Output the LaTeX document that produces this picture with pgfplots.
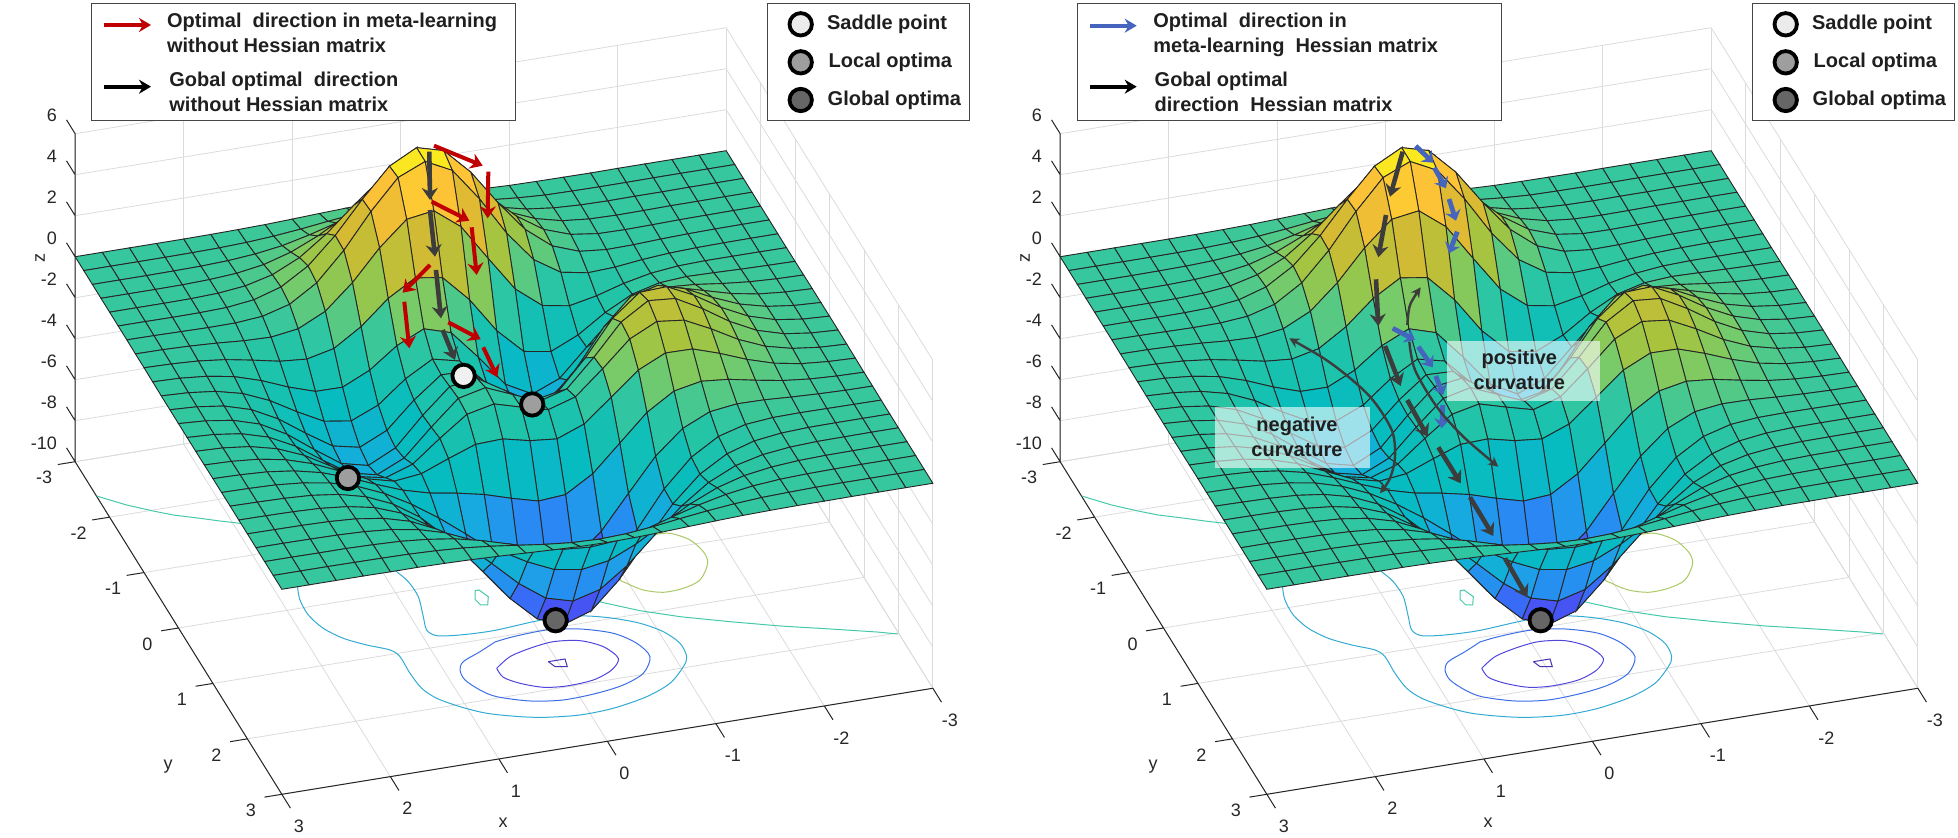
\documentclass[border=0pt]{standalone}
\usepackage{fontspec}
\setmainfont{Liberation Sans}
\usepackage{pgfplots}
\usepackage{pgfplotstable}
\pgfplotsset{compat=1.18}
\usetikzlibrary{arrows.meta}

\definecolor{tickc}{RGB}{38,38,38}
\definecolor{myred}{RGB}{192,0,0}
\definecolor{myblue}{RGB}{68,100,190}
\definecolor{mydark}{RGB}{60,60,60}

% surface values, x and y in steps of 0.25
\pgfplotstableread[row sep=\\]{
x y z\\
-3 -3 0\\-2.75 -3 0\\-2.5 -3 0\\-2.25 -3 0\\-2 -3 0\\-1.75 -3 -0.01\\-1.5 -3 0\\-1.25 -3 0.01\\-1 -3 0.03\\-0.75 -3 0.08\\-0.5 -3 0.14\\-0.25 -3 0.2\\0 -3 0.24\\0.25 -3 0.25\\0.5 -3 0.22\\0.75 -3 0.17\\1 -3 0.11\\1.25 -3 0.06\\1.5 -3 0.03\\1.75 -3 0.01\\2 -3 0\\2.25 -3 0\\2.5 -3 0\\2.75 -3 0\\3 -3 0\\
-3 -2.75 0\\-2.75 -2.75 0\\-2.5 -2.75 0\\-2.25 -2.75 0\\-2 -2.75 -0.01\\-1.75 -2.75 -0.01\\-1.5 -2.75 0\\-1.25 -2.75 0.02\\-1 -2.75 0.1\\-0.75 -2.75 0.22\\-0.5 -2.75 0.39\\-0.25 -2.75 0.56\\0 -2.75 0.68\\0.25 -2.75 0.69\\0.5 -2.75 0.61\\0.75 -2.75 0.46\\1 -2.75 0.3\\1.25 -2.75 0.17\\1.5 -2.75 0.08\\1.75 -2.75 0.03\\2 -2.75 0.01\\2.25 -2.75 0\\2.5 -2.75 0\\2.75 -2.75 0\\3 -2.75 0\\
-3 -2.5 0\\-2.75 -2.5 0\\-2.5 -2.5 0\\-2.25 -2.5 -0.01\\-2 -2.5 -0.01\\-1.75 -2.5 -0.02\\-1.5 -2.5 0\\-1.25 -2.5 0.07\\-1 -2.5 0.23\\-0.75 -2.5 0.53\\-0.5 -2.5 0.92\\-0.25 -2.5 1.31\\0 -2.5 1.57\\0.25 -2.5 1.61\\0.5 -2.5 1.41\\0.75 -2.5 1.06\\1 -2.5 0.69\\1.25 -2.5 0.38\\1.5 -2.5 0.19\\1.75 -2.5 0.08\\2 -2.5 0.03\\2.25 -2.5 0.01\\2.5 -2.5 0\\2.75 -2.5 0\\3 -2.5 0\\
-3 -2.25 0\\-2.75 -2.25 0\\-2.5 -2.25 -0.01\\-2.25 -2.25 -0.01\\-2 -2.25 -0.03\\-1.75 -2.25 -0.04\\-1.5 -2.25 -0.01\\-1.25 -2.25 0.12\\-1 -2.25 0.44\\-0.75 -2.25 0.99\\-0.5 -2.25 1.74\\-0.25 -2.25 2.51\\0 -2.25 3.02\\0.25 -2.25 3.1\\0.5 -2.25 2.72\\0.75 -2.25 2.05\\1 -2.25 1.32\\1.25 -2.25 0.74\\1.5 -2.25 0.35\\1.75 -2.25 0.14\\2 -2.25 0.05\\2.25 -2.25 0.01\\2.5 -2.25 0\\2.75 -2.25 0\\3 -2.25 0\\
-3 -2 0\\-2.75 -2 0\\-2.5 -2 -0.01\\-2.25 -2 -0.02\\-2 -2 -0.05\\-1.75 -2 -0.07\\-1.5 -2 -0.05\\-1.25 -2 0.13\\-1 -2 0.59\\-0.75 -2 1.45\\-0.5 -2 2.64\\-0.25 -2 3.89\\0 -2 4.76\\0.25 -2 4.93\\0.5 -2 4.35\\0.75 -2 3.27\\1 -2 2.1\\1.25 -2 1.15\\1.5 -2 0.53\\1.75 -2 0.2\\2 -2 0.06\\2.25 -2 0.01\\2.5 -2 0\\2.75 -2 0\\3 -2 0\\
-3 -1.75 0\\-2.75 -1.75 0\\-2.5 -1.75 -0.01\\-2.25 -1.75 -0.03\\-2 -1.75 -0.07\\-1.75 -1.75 -0.13\\-1.5 -1.75 -0.15\\-1.25 -1.75 -0.02\\-1 -1.75 0.46\\-0.75 -1.75 1.48\\-0.5 -1.75 3\\-0.25 -1.75 4.7\\0 -1.75 5.97\\0.25 -1.75 6.33\\0.5 -1.75 5.64\\0.75 -1.75 4.24\\1 -1.75 2.69\\1.25 -1.75 1.42\\1.5 -1.75 0.61\\1.75 -1.75 0.2\\2 -1.75 0.04\\2.25 -1.75 0\\2.5 -1.75 -0.01\\2.75 -1.75 0\\3 -1.75 0\\
-3 -1.5 0\\-2.75 -1.5 0\\-2.5 -1.5 -0.01\\-2.25 -1.5 -0.03\\-2 -1.5 -0.08\\-1.75 -1.5 -0.18\\-1.5 -1.5 -0.33\\-1.25 -1.5 -0.39\\-1 -1.5 -0.15\\-0.75 -1.5 0.68\\-0.5 -1.5 2.19\\-0.25 -1.5 4.08\\0 -1.5 5.68\\0.25 -1.5 6.33\\0.5 -1.5 5.76\\0.75 -1.5 4.32\\1 -1.5 2.64\\1.25 -1.5 1.27\\1.5 -1.5 0.44\\1.75 -1.5 0.07\\2 -1.5 -0.04\\2.25 -1.5 -0.05\\2.5 -1.5 -0.03\\2.75 -1.5 -0.01\\3 -1.5 0\\
-3 -1.25 0\\-2.75 -1.25 0.01\\-2.5 -1.25 0.01\\-2.25 -1.25 0.01\\-2 -1.25 -0.03\\-1.75 -1.25 -0.17\\-1.5 -1.25 -0.45\\-1.25 -1.25 -0.84\\-1 -1.25 -1.11\\-0.75 -1.25 -0.88\\-0.5 -1.25 0.14\\-0.25 -1.25 1.85\\0 -1.25 3.61\\0.25 -1.25 4.6\\0.5 -1.25 4.4\\0.75 -1.25 3.22\\1 -1.25 1.74\\1.25 -1.25 0.56\\1.5 -1.25 -0.08\\1.75 -1.25 -0.27\\2 -1.25 -0.23\\2.25 -1.25 -0.13\\2.5 -1.25 -0.06\\2.75 -1.25 -0.02\\3 -1.25 -0.01\\
-3 -1 0.01\\-2.75 -1 0.03\\-2.5 -1 0.06\\-2.25 -1 0.1\\-2 -1 0.13\\-1.75 -1 0.04\\-1.5 -1 -0.3\\-1.25 -1 -0.98\\-1 -1 -1.86\\-0.75 -1 -2.45\\-0.5 -1 -2.23\\-0.25 -1 -1\\0 -1 0.72\\0.25 -1 2.02\\0.5 -1 2.22\\0.75 -1 1.43\\1 -1 0.27\\1.25 -1 -0.58\\1.5 -1 -0.88\\1.75 -1 -0.77\\2 -1 -0.5\\2.25 -1 -0.26\\2.5 -1 -0.11\\2.75 -1 -0.04\\3 -1 -0.01\\
-3 -0.75 0.02\\-2.75 -0.75 0.05\\-2.5 -0.75 0.12\\-2.25 -0.75 0.25\\-2 -0.75 0.42\\-1.75 -0.75 0.51\\-1.5 -0.75 0.28\\-1.25 -0.75 -0.5\\-1 -0.75 -1.78\\-0.75 -0.75 -3.09\\-0.5 -0.75 -3.63\\-0.25 -0.75 -2.94\\0 -0.75 -1.4\\0.25 -0.75 0.01\\0.5 -0.75 0.41\\0.75 -0.75 -0.2\\1 -0.75 -1.18\\1.25 -0.75 -1.79\\1.5 -0.75 -1.78\\1.75 -0.75 -1.35\\2 -0.75 -0.82\\2.25 -0.75 -0.41\\2.5 -0.75 -0.18\\2.75 -0.75 -0.06\\3 -0.75 -0.02\\
-3 -0.5 0.03\\-2.75 -0.5 0.08\\-2.5 -0.5 0.2\\-2.25 -0.5 0.44\\-2 -0.5 0.8\\-1.75 -0.5 1.16\\-1.5 -0.5 1.21\\-1.25 -0.5 0.6\\-1 -0.5 -0.8\\-0.75 -0.5 -2.49\\-0.5 -0.5 -3.55\\-0.25 -0.5 -3.3\\0 -0.5 -2\\0.25 -0.5 -0.7\\0.5 -0.5 -0.39\\0.75 -0.5 -1.14\\1 -0.5 -2.2\\1.25 -0.5 -2.76\\1.5 -0.5 -2.56\\1.75 -0.5 -1.88\\2 -0.5 -1.12\\2.25 -0.5 -0.56\\2.5 -0.5 -0.24\\2.75 -0.5 -0.09\\3 -0.5 -0.03\\
-3 -0.25 0.03\\-2.75 -0.25 0.1\\-2.5 -0.25 0.27\\-2.25 -0.25 0.6\\-2 -0.25 1.14\\-1.75 -0.25 1.78\\-1.5 -0.25 2.16\\-1.25 -0.25 1.84\\-1 -0.25 0.56\\-0.75 -0.25 -1.23\\-0.5 -0.25 -2.56\\-0.25 -0.25 -2.63\\0 -0.25 -1.58\\0.25 -0.25 -0.53\\0.5 -0.25 -0.48\\0.75 -0.25 -1.5\\1 -0.25 -2.76\\1.25 -0.25 -3.37\\1.5 -0.25 -3.09\\1.75 -0.25 -2.25\\2 -0.25 -1.34\\2.25 -0.25 -0.67\\2.5 -0.25 -0.28\\2.75 -0.25 -0.1\\3 -0.25 -0.03\\
-3 0 0.04\\-2.75 0 0.11\\-2.5 0 0.3\\-2.25 0 0.69\\-2 0 1.33\\-1.75 0 2.14\\-1.5 0 2.77\\-1.25 0 2.71\\-1 0 1.65\\-0.75 0 -0.06\\-0.5 0 -1.48\\-0.25 0 -1.75\\0 0 -0.98\\0.25 0 -0.19\\0.5 0 -0.38\\0.75 0 -1.57\\1 0 -2.94\\1.25 0 -3.58\\1.5 0 -3.27\\1.75 0 -2.37\\2 0 -1.41\\2.25 0 -0.7\\2.5 0 -0.3\\2.75 0 -0.11\\3 0 -0.03\\
-3 0.25 0.04\\-2.75 0.25 0.11\\-2.5 0.25 0.29\\-2.25 0.25 0.67\\-2 0.25 1.32\\-1.75 0.25 2.16\\-1.5 0.25 2.87\\-1.25 0.25 2.98\\-1 0.25 2.15\\-0.75 0.25 0.65\\-0.5 0.25 -0.68\\-0.25 0.25 -1.06\\0 0.25 -0.52\\0.25 0.25 0.03\\0.5 0.25 -0.28\\0.75 0.25 -1.47\\1 0.25 -2.76\\1.25 0.25 -3.36\\1.5 0.25 -3.06\\1.75 0.25 -2.22\\2 0.25 -1.32\\2.25 0.25 -0.66\\2.5 0.25 -0.28\\2.75 0.25 -0.1\\3 0.25 -0.03\\
-3 0.5 0.03\\-2.75 0.5 0.09\\-2.5 0.5 0.25\\-2.25 0.5 0.57\\-2 0.5 1.12\\-1.75 0.5 1.85\\-1.5 0.5 2.49\\-1.25 0.5 2.64\\-1 0.5 2\\-0.75 0.5 0.76\\-0.5 0.5 -0.39\\-0.25 0.5 -0.8\\0 0.5 -0.46\\0.25 0.5 -0.09\\0.5 0.5 -0.38\\0.75 0.5 -1.34\\1 0.5 -2.38\\1.25 0.5 -2.83\\1.5 0.5 -2.56\\1.75 0.5 -1.84\\2 0.5 -1.09\\2.25 0.5 -0.55\\2.5 0.5 -0.23\\2.75 0.5 -0.08\\3 0.5 -0.03\\
-3 0.75 0.02\\-2.75 0.75 0.07\\-2.5 0.75 0.18\\-2.25 0.75 0.42\\-2 0.75 0.82\\-1.75 0.75 1.33\\-1.5 0.75 1.76\\-1.25 0.75 1.78\\-1 0.75 1.16\\-0.75 0.75 0.05\\-0.5 0.75 -1.04\\-0.25 0.75 -1.55\\0 0.75 -1.42\\0.25 0.75 -1.12\\0.5 0.75 -1.17\\0.75 0.75 -1.65\\1 0.75 -2.17\\1.25 0.75 -2.32\\1.5 0.75 -1.99\\1.75 0.75 -1.4\\2 0.75 -0.82\\2.25 0.75 -0.41\\2.5 0.75 -0.17\\2.75 0.75 -0.06\\3 0.75 -0.02\\
-3 1 0.01\\-2.75 1 0.04\\-2.5 1 0.11\\-2.25 1 0.25\\-2 1 0.48\\-1.75 1 0.74\\-1.5 1 0.86\\-1.25 1 0.6\\-1 1 -0.23\\-0.75 1 -1.51\\-0.5 1 -2.79\\-0.25 1 -3.59\\0 1 -3.69\\0.25 1 -3.34\\0.5 1 -2.94\\0.75 1 -2.66\\1 1 -2.44\\1.25 1 -2.08\\1.5 1 -1.58\\1.75 1 -1.04\\2 1 -0.58\\2.25 1 -0.28\\2.5 1 -0.11\\2.75 1 -0.04\\3 1 -0.01\\
-3 1.25 0.01\\-2.75 1.25 0.02\\-2.5 1.25 0.06\\-2.25 1.25 0.12\\-2 1.25 0.2\\-1.75 1.25 0.22\\-1.5 1.25 0.05\\-1.25 1.25 -0.55\\-1 1.25 -1.69\\-0.75 1.25 -3.29\\-0.5 1.25 -4.92\\-0.25 1.25 -6.07\\0 1.25 -6.39\\0.25 1.25 -5.94\\0.5 1.25 -5.02\\0.75 1.25 -3.97\\1 1.25 -2.97\\1.25 1.25 -2.09\\1.5 1.25 -1.35\\1.75 1.25 -0.79\\2 1.25 -0.41\\2.25 1.25 -0.19\\2.5 1.25 -0.07\\2.75 1.25 -0.03\\3 1.25 -0.01\\
-3 1.5 0\\-2.75 1.5 0.01\\-2.5 1.5 0.02\\-2.25 1.5 0.03\\-2 1.5 0.01\\-1.75 1.5 -0.11\\-1.5 1.5 -0.48\\-1.25 1.5 -1.28\\-1 1.5 -2.61\\-0.75 1.5 -4.38\\-0.5 1.5 -6.2\\-0.25 1.5 -7.54\\0 1.5 -8\\0.25 1.5 -7.48\\0.5 1.5 -6.25\\0.75 1.5 -4.72\\1 1.5 -3.26\\1.25 1.5 -2.05\\1.5 1.5 -1.19\\1.75 1.5 -0.62\\2 1.5 -0.29\\2.25 1.5 -0.12\\2.5 1.5 -0.05\\2.75 1.5 -0.02\\3 1.5 0\\
-3 1.75 0\\-2.75 1.75 0\\-2.5 1.75 0\\-2.25 1.75 -0.01\\-2 1.75 -0.07\\-1.75 1.75 -0.24\\-1.5 1.75 -0.65\\-1.25 1.75 -1.43\\-1 1.75 -2.67\\-0.75 1.75 -4.29\\-0.5 1.75 -5.96\\-0.25 1.75 -7.22\\0 1.75 -7.67\\0.25 1.75 -7.19\\0.5 1.75 -5.98\\0.75 1.75 -4.45\\1 1.75 -2.96\\1.25 1.75 -1.78\\1.5 1.75 -0.96\\1.75 1.75 -0.47\\2 1.75 -0.21\\2.25 1.75 -0.08\\2.5 1.75 -0.03\\2.75 1.75 -0.01\\3 1.75 0\\
-3 2 0\\-2.75 2 0\\-2.5 2 -0.01\\-2.25 2 -0.02\\-2 2 -0.08\\-1.75 2 -0.23\\-1.5 2 -0.55\\-1.25 2 -1.16\\-1 2 -2.1\\-0.75 2 -3.31\\-0.5 2 -4.56\\-0.25 2 -5.51\\0 2 -5.86\\0.25 2 -5.5\\0.5 2 -4.57\\0.75 2 -3.37\\1 2 -2.21\\1.25 2 -1.29\\1.5 2 -0.68\\1.75 2 -0.32\\2 2 -0.13\\2.25 2 -0.05\\2.5 2 -0.02\\2.75 2 -0.01\\3 2 0\\
-3 2.25 0\\-2.75 2.25 0\\-2.5 2.25 -0.01\\-2.25 2.25 -0.02\\-2 2.25 -0.06\\-1.75 2.25 -0.16\\-1.5 2.25 -0.36\\-1.25 2.25 -0.74\\-1 2.25 -1.32\\-0.75 2.25 -2.07\\-0.5 2.25 -2.84\\-0.25 2.25 -3.43\\0 2.25 -3.65\\0.25 2.25 -3.43\\0.5 2.25 -2.84\\0.75 2.25 -2.09\\1 2.25 -1.36\\1.25 2.25 -0.79\\1.5 2.25 -0.41\\1.75 2.25 -0.19\\2 2.25 -0.08\\2.25 2.25 -0.03\\2.5 2.25 -0.01\\2.75 2.25 0\\3 2.25 0\\
-3 2.5 0\\-2.75 2.5 0\\-2.5 2.5 0\\-2.25 2.5 -0.01\\-2 2.5 -0.03\\-1.75 2.5 -0.08\\-1.5 2.5 -0.19\\-1.25 2.5 -0.39\\-1 2.5 -0.69\\-0.75 2.5 -1.07\\-0.5 2.5 -1.47\\-0.25 2.5 -1.77\\0 2.5 -1.88\\0.25 2.5 -1.77\\0.5 2.5 -1.47\\0.75 2.5 -1.08\\1 2.5 -0.7\\1.25 2.5 -0.4\\1.5 2.5 -0.21\\1.75 2.5 -0.09\\2 2.5 -0.04\\2.25 2.5 -0.01\\2.5 2.5 -0.01\\2.75 2.5 0\\3 2.5 0\\
-3 2.75 0\\-2.75 2.75 0\\-2.5 2.75 0\\-2.25 2.75 0\\-2 2.75 -0.01\\-1.75 2.75 -0.04\\-1.5 2.75 -0.08\\-1.25 2.75 -0.17\\-1 2.75 -0.3\\-0.75 2.75 -0.46\\-0.5 2.75 -0.64\\-0.25 2.75 -0.77\\0 2.75 -0.82\\0.25 2.75 -0.77\\0.5 2.75 -0.64\\0.75 2.75 -0.47\\1 2.75 -0.3\\1.25 2.75 -0.17\\1.5 2.75 -0.09\\1.75 2.75 -0.04\\2 2.75 -0.02\\2.25 2.75 -0.01\\2.5 2.75 0\\2.75 2.75 0\\3 2.75 0\\
-3 3 0\\-2.75 3 0\\-2.5 3 0\\-2.25 3 0\\-2 3 -0.01\\-1.75 3 -0.01\\-1.5 3 -0.03\\-1.25 3 -0.06\\-1 3 -0.11\\-0.75 3 -0.17\\-0.5 3 -0.23\\-0.25 3 -0.28\\0 3 -0.3\\0.25 3 -0.28\\0.5 3 -0.23\\0.75 3 -0.17\\1 3 -0.11\\1.25 3 -0.06\\1.5 3 -0.03\\1.75 3 -0.01\\2 3 -0.01\\2.25 3 0\\2.5 3 0\\2.75 3 0\\3 3 0\\
}\peaks

% contour lines on the floor (z=-10), read off in pixels of the left panel
\pgfplotstableread[row sep=\\]{
px py pz\\ 96.7 496 -10\\ 126.7 505 -10\\ 151.7 510.7 -10\\ 173.3 515 -10\\ 200 518.3 -10\\ 220 521 -10\\ 240 523.3 -10\\ 270 528 -10\\
}\czeroa
\pgfplotstableread[row sep=\\]{
px py pz\\ 580 595 -10\\ 601.7 602.3 -10\\ 640 610.7 -10\\ 680 616.7 -10\\ 730 621.7 -10\\ 780 626 -10\\ 830 629 -10\\ 876.7 632 -10\\ 898 634 -10\\
}\czerob
\pgfplotstableread[row sep=\\]{
px py pz\\ 475 590.7 -10\\ 479 590 -10\\ 488.3 596.7 -10\\ 487.7 605 -10\\ 480.7 605 -10\\ 475 599.3 -10\\ 475 590.7 -10\\
}\czeroc
\pgfplotstableread[row sep=\\]{
px py pz\\ 297 578 -10\\ 297.7 588.3 -10\\ 300 600 -10\\ 308.3 615 -10\\ 323.3 628.3 -10\\ 343.3 638.3 -10\\ 366.7 645 -10\\ 390 650 -10\\ 400 656.7 -10\\ 410 673.3 -10\\ 421.7 688.3 -10\\ 436.7 698.3 -10\\ 460 706.7 -10\\ 486.7 713.3 -10\\ 520 716.7 -10\\ 546.7 717.3 -10\\ 580 715 -10\\ 613.3 708.3 -10\\ 646.7 696.7 -10\\ 670 683.3 -10\\ 683.3 666.7 -10\\ 686.7 656.7 -10\\ 680 643.3 -10\\ 663.3 631.7 -10\\ 640 623.3 -10\\ 613.3 618.3 -10\\ 586.7 616 -10\\ 560 617 -10\\ 533.3 621.7 -10\\ 493.3 630.7 -10\\ 460 635 -10\\ 436.7 635.7 -10\\ 426.7 630 -10\\ 423.3 616.7 -10\\ 418.3 596.7 -10\\ 408.3 581.7 -10\\ 396.7 571.7 -10\\ 390 566 -10\\
}\ctwo
\pgfplotstableread[row sep=\\]{
px py pz\\ 495 642 -10\\ 513.3 636.7 -10\\ 546.7 630 -10\\ 580 629 -10\\ 613.3 633.3 -10\\ 636.7 643.3 -10\\ 650 656.7 -10\\ 643.3 673.3 -10\\ 623.3 685 -10\\ 596.7 693.3 -10\\ 563.3 700 -10\\ 530 701 -10\\ 496.7 696.7 -10\\ 480 690 -10\\ 465 680 -10\\ 460 670 -10\\ 463.3 661.7 -10\\ 480 651.7 -10\\ 495 642 -10\\
}\cfour
\pgfplotstableread[row sep=\\]{
px py pz\\ 496.7 668.3 -10\\ 510 656.7 -10\\ 530 648.3 -10\\ 553.3 641.7 -10\\ 580 640.7 -10\\ 603.3 646.7 -10\\ 618.3 658.3 -10\\ 611.7 670 -10\\ 593.3 680 -10\\ 566.7 686 -10\\ 543.3 687.3 -10\\ 520 683.3 -10\\ 503.3 677.3 -10\\ 496.7 668.3 -10\\
}\csix
\pgfplotstableread[row sep=\\]{
px py pz\\ 548.3 661.7 -10\\ 565 659 -10\\ 567.3 666.7 -10\\ 555 666.7 -10\\ 548.3 661.7 -10\\
}\ceight
\pgfplotstableread[row sep=\\]{
px py pz\\ 640 540 -10\\ 653.3 535 -10\\ 670 533.3 -10\\ 690 540 -10\\ 703.3 551.7 -10\\ 707.7 563.3 -10\\ 700 580 -10\\ 683.3 588.3 -10\\ 663.3 592.3 -10\\ 643.3 590 -10\\ 626.7 583.3 -10\\ 620 578.3 -10\\ 630 560 -10\\ 640 540 -10\\
}\cplus

\pgfplotsset{
  surfaceaxis/.style={
    anchor=origin,
    x={(-54.25pt,-8.835pt)}, y={(17.225pt,-27.715pt)}, z={(0pt,10.25pt)},
    xmin=-3, xmax=3, ymin=-3, ymax=3, zmin=-10, zmax=6,
    xtick={-3,-2,...,3}, ytick={-3,-2,...,3}, ztick={-10,-8,...,6},
    grid=major, grid style={black!14,line width=0.4pt},
    axis line style={draw=none},
    major tick length=0pt,
    /pgf/number format/assume math mode=true,
    tick label style={font=\fontsize{9}{11}\selectfont,text=tickc},
    xticklabel style={anchor=center,xshift=8.5pt,yshift=-16pt},
    yticklabel style={anchor=center,xshift=-15.5pt,yshift=-8pt},
    zticklabel style={anchor=east,xshift=-5.6pt,yshift=9pt},
    clip=false,
    colormap={parula}{
      rgb255(0pt)=(62,38,168) rgb255(10pt)=(71,82,244) rgb255(20pt)=(46,129,248) rgb255(30pt)=(24,169,226)
      rgb255(40pt)=(6,188,192) rgb255(50pt)=(30,195,170) rgb255(55pt)=(52,199,160) rgb255(62pt)=(120,203,104)
      rgb255(70pt)=(170,195,60) rgb255(80pt)=(220,185,50) rgb255(90pt)=(254,195,55) rgb255(100pt)=(249,251,21)},
    point meta min=-8.1, point meta max=6.55,
  },
  /pgfplots/table/floor table/.style={
    x expr={-0.00837*(\thisrowno{0}-504)+0.0052*(\thisrowno{1}-575)},
    y expr={0.01638*(\thisrowno{1}-575)+0.002668*(\thisrowno{0}-504)},
    z index=2},
  ball/.style={only marks,mark=*,mark size=5.6pt,
    mark options={draw=black,line width=1.9pt,fill=#1}},
  redarr/.style={myred,line width=2pt,-{Stealth[length=6pt,width=8pt]}},
  bluearr/.style={myblue,line width=2.4pt,-{Stealth[length=5pt,width=8pt]}},
  darkarr/.style={mydark,line width=2.3pt,-{Stealth[length=6pt,width=8pt]}},
  thinarr/.style={mydark,line width=1.2pt,smooth,-{Stealth[length=5pt,width=5pt]}},
}

% front axis lines with their ticks, each a single retraced line
\newcommand{\axislines}{%
  \addplot3[tickc,line width=0.5pt,no marks] coordinates {(-3,3.25,-10) (-3,3,-10) (-2,3,-10) (-2,3.25,-10) (-2,3,-10) (-1,3,-10) (-1,3.25,-10) (-1,3,-10) (0,3,-10) (0,3.25,-10) (0,3,-10) (1,3,-10) (1,3.25,-10) (1,3,-10) (2,3,-10) (2,3.25,-10) (2,3,-10) (3,3,-10) (3,3.25,-10)};
  \addplot3[tickc,line width=0.5pt,no marks] coordinates {(3.16,-3,-10) (3,-3,-10) (3,-2,-10) (3.16,-2,-10) (3,-2,-10) (3,-1,-10) (3.16,-1,-10) (3,-1,-10) (3,0,-10) (3.16,0,-10) (3,0,-10) (3,1,-10) (3.16,1,-10) (3,1,-10) (3,2,-10) (3.16,2,-10) (3,2,-10) (3,3,-10) (3.16,3,-10)};
  \addplot3[tickc,line width=0.5pt,no marks] coordinates {(3,-3.25,-10) (3,-3,-10) (3,-3,-8) (3,-3.25,-8) (3,-3,-8) (3,-3,-6) (3,-3.25,-6) (3,-3,-6) (3,-3,-4) (3,-3.25,-4) (3,-3,-4) (3,-3,-2) (3,-3.25,-2) (3,-3,-2) (3,-3,0) (3,-3.25,0) (3,-3,0) (3,-3,2) (3,-3.25,2) (3,-3,2) (3,-3,4) (3,-3.25,4) (3,-3,4) (3,-3,6) (3,-3.25,6)};
}
\newcommand{\contours}{%
  \addplot3[no marks,draw={rgb,255:red,70;green,200;blue,170},line width=0.5pt] table[floor table] {\czeroa};
  \addplot3[no marks,draw={rgb,255:red,70;green,200;blue,170},line width=0.5pt] table[floor table] {\czerob};
  \addplot3[no marks,draw={rgb,255:red,70;green,200;blue,170},line width=0.5pt] table[floor table] {\czeroc};
  \addplot3[no marks,smooth,draw={rgb,255:red,50;green,170;blue,210},line width=0.5pt] table[floor table] {\ctwo};
  \addplot3[no marks,smooth,draw={rgb,255:red,60;green,110;blue,230},line width=0.5pt] table[floor table] {\cfour};
  \addplot3[no marks,smooth,draw={rgb,255:red,80;green,70;blue,220},line width=0.5pt] table[floor table] {\csix};
  \addplot3[no marks,draw={rgb,255:red,70;green,50;blue,180},line width=0.5pt] table[floor table] {\ceight};
  \addplot3[no marks,smooth,draw={rgb,255:red,170;green,200;blue,100},line width=0.5pt] table[floor table] {\cplus};
}
\newcommand{\arr}[5]{\addplot[#1] coordinates {(#2,#3) (#4,#5)};}
\newcommand{\boxat}[4]{\draw[draw={rgb,255:red,70;green,70;blue,70},line width=0.7pt,fill=white] (axis cs:#1,#2) rectangle (axis cs:#3,#4);}
\newcommand{\lab}[3]{\node[anchor=base west,inner sep=0pt,font=\fontsize{10}{12}\selectfont\bfseries,text=black!88] at (axis cs:#1,#2) {#3};}
\newcommand{\axlab}[4][0]{\node[rotate=#1,inner sep=0pt,font=\fontsize{9}{11}\selectfont,text=tickc] at (axis cs:#2,#3) {#4};}

\begin{document}
\begin{tikzpicture}
\useasboundingbox (0pt,0pt) rectangle (979pt,419pt);

\begin{axis}[surfaceaxis, at={(252pt,234pt)}]
  \axislines
  \contours
  \addplot3[surf, shader=faceted, faceted color=black!85, line width=0.45pt, z buffer=none,
    mesh/rows=25, mesh/cols=25, point meta=z] table[x=x,y=y,z=z] {\peaks};
  \addplot3[ball={black!6}] coordinates {(0.15,-0.7,-2.05)};
  \addplot3[ball={black!38}] coordinates {(-0.46,-0.63,-3.78) (1.47,0.1,-3.73)};
  \addplot3[ball={black!60}] coordinates {(0,1.5,-8.15)};
\end{axis}

\begin{axis}[surfaceaxis, at={(744.5pt,234pt)}]
  \axislines
  \contours
  \addplot3[surf, shader=faceted, faceted color=black!85, line width=0.45pt, z buffer=none,
    mesh/rows=25, mesh/cols=25, point meta=z] table[x=x,y=y,z=z] {\peaks};
  \addplot3[ball={black!60}] coordinates {(0,1.5,-8.15)};
\end{axis}

% arrows, boxes and legends, in pixels of the whole picture
\begin{axis}[at={(0pt,0pt)}, anchor=south west, scale only axis, width=979pt, height=419pt,
    xmin=0, xmax=1958, ymin=0, ymax=838, y dir=reverse, hide axis, clip=false]
  % axis labels
  \axlab{503}{823}{x}
  \axlab{168}{767}{y}
  \axlab[90]{40}{258}{z}
  \axlab{1488}{823}{x}
  \axlab{1153}{767}{y}
  \axlab[90]{1025}{258}{z}
  % left panel
  \arr{redarr}{434}{145.7}{482.7}{165.7}
  \arr{redarr}{488.3}{171.7}{487.7}{218.3}
  \arr{redarr}{431.7}{201.7}{469.3}{220.7}
  \arr{redarr}{471.7}{227.3}{476.7}{275}
  \arr{redarr}{430}{265}{402.7}{292.7}
  \arr{redarr}{404.3}{301.7}{409.3}{348.3}
  \arr{redarr}{448.3}{322.3}{480.7}{339.3}
  \arr{redarr}{483.3}{347.3}{497.3}{377.3}
  \arr{darkarr}{429.3}{151.7}{430}{200}
  \arr{darkarr}{430}{210}{435}{256.7}
  \arr{darkarr}{436}{270}{441}{318.3}
  \arr{darkarr}{442.7}{330}{455}{360}
  % right panel
  \arr{bluearr}{1415.7}{146}{1433.3}{162.7}
  \arr{bluearr}{1434.3}{167.7}{1446}{188.3}
  \arr{bluearr}{1449}{199}{1456}{220.7}
  \arr{bluearr}{1457.3}{231.7}{1449}{253.3}
  \arr{bluearr}{1392.7}{328.3}{1415}{340}
  \arr{bluearr}{1418.3}{346.7}{1432.7}{367.3}
  \arr{bluearr}{1435.7}{376}{1443.3}{395}
  \arr{bluearr}{1442.7}{405}{1441.7}{428.3}
  \arr{darkarr}{1402.7}{151.7}{1390}{196.7}
  \arr{darkarr}{1386}{215}{1378.3}{257.3}
  \arr{darkarr}{1376}{279.3}{1378.3}{326}
  \arr{darkarr}{1385}{346}{1400.7}{386}
  \arr{darkarr}{1407.3}{400}{1427.7}{436.7}
  \arr{darkarr}{1438.3}{447.3}{1460.7}{483.3}
  \arr{darkarr}{1470}{497.3}{1493.3}{536}
  \arr{darkarr}{1505}{558.3}{1527.3}{597.3}
  \addplot[thinarr] coordinates {(1407.3,325) (1410,305) (1420.7,287.3)};
  \addplot[thinarr] coordinates {(1409.3,341.7) (1415,370) (1436.7,406.7) (1463.3,436.7) (1498.3,466.7)};
  \addplot[thinarr,{Stealth[length=5pt,width=5pt]}-{Stealth[length=5pt,width=5pt]}] coordinates
    {(1289.3,338.3) (1333.3,365) (1370,396.7) (1391.7,430) (1395,456.7) (1390,478.3) (1380,493.3)};
  % curvature labels
  \fill[white,fill opacity=0.6] (axis cs:1446.7,340.7) rectangle (axis cs:1600,400.7);
  \fill[white,fill opacity=0.6] (axis cs:1215,407.3) rectangle (axis cs:1370,468.3);
  \node[align=center,font=\fontsize{10}{12.5}\selectfont\bfseries,text=black!88] at (axis cs:1519.3,370) {positive\\curvature};
  \node[align=center,font=\fontsize{10}{12.5}\selectfont\bfseries,text=black!88] at (axis cs:1297,437) {negative\\curvature};
  % left legend boxes
  \boxat{91.7}{3.3}{515.7}{120.7}
  \boxat{767.3}{3.3}{969.3}{120.7}
  \arr{myred,line width=2pt,-{Stealth[length=6pt,width=7pt]}}{104.3}{25}{151}{25}
  \arr{black,line width=2pt,-{Stealth[length=6pt,width=7pt]}}{104.3}{86.7}{151}{86.7}
  \lab{166.7}{28}{Optimal\ \ direction in meta-learning}
  \lab{166.7}{53}{without Hessian matrix}
  \lab{169}{87}{Gobal optimal\ \ direction}
  \lab{169}{112}{without Hessian matrix}
  \addplot[ball={black!8}] coordinates {(800.7,24.3)};
  \addplot[ball={black!38}] coordinates {(800.7,62.3)};
  \addplot[ball={black!60}] coordinates {(800.7,100)};
  \lab{826.7}{30}{Saddle point}
  \lab{828.3}{68}{Local optima}
  \lab{827.3}{106}{Global optima}
  % right legend boxes
  \boxat{1077.3}{3.3}{1501.7}{120.7}
  \boxat{1752.3}{3.3}{1954.3}{120.7}
  \arr{myblue,line width=2pt,-{Stealth[length=6pt,width=7pt]}}{1090}{25.7}{1136.7}{25.7}
  \arr{black,line width=2pt,-{Stealth[length=6pt,width=7pt]}}{1090}{86.7}{1136.7}{86.7}
  \lab{1153}{28}{Optimal\ \ direction in}
  \lab{1153}{53}{meta-learning\ \ Hessian matrix}
  \lab{1154.3}{87}{Gobal optimal}
  \lab{1154.3}{112}{direction\ \ Hessian matrix}
  \addplot[ball={black!8}] coordinates {(1785.7,24.3)};
  \addplot[ball={black!38}] coordinates {(1785.7,62.3)};
  \addplot[ball={black!60}] coordinates {(1785.7,100)};
  \lab{1811.7}{30}{Saddle point}
  \lab{1813.3}{68}{Local optima}
  \lab{1812.3}{106}{Global optima}
\end{axis}
\end{tikzpicture}
\end{document}
